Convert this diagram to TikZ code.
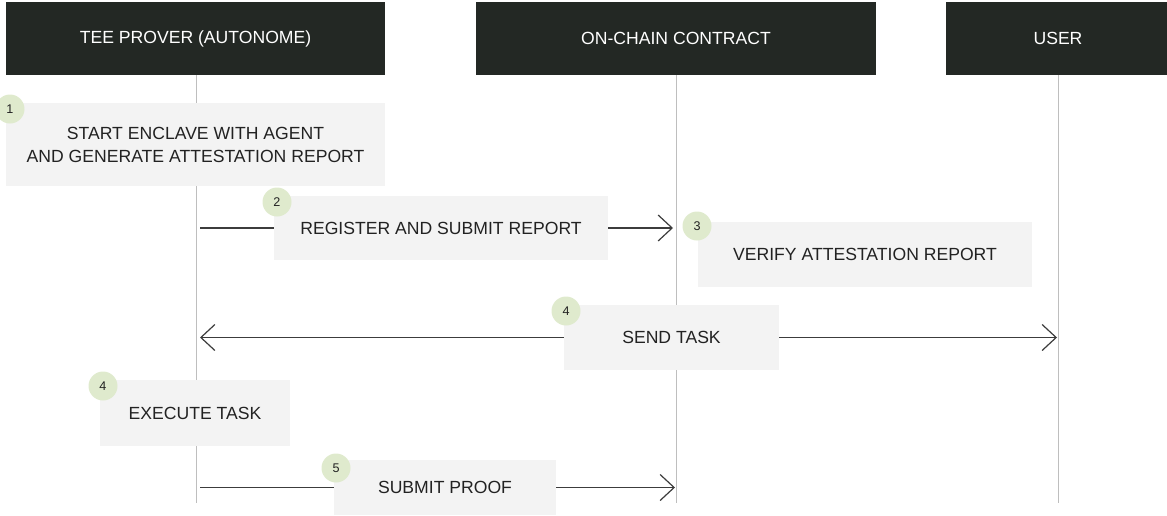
\documentclass[tikz,border=0pt]{standalone}
\usepackage{fontspec}
\setmainfont{Liberation Sans}
\usetikzlibrary{arrows.meta}
\definecolor{headbg}{RGB}{35,40,36}
\definecolor{stepbg}{RGB}{243,243,243}
\definecolor{badgebg}{RGB}{223,234,205}
\definecolor{inktext}{RGB}{34,34,34}
\definecolor{lifegray}{RGB}{190,190,190}
\definecolor{msggray}{RGB}{60,60,60}
\begin{document}
\begin{tikzpicture}[x=0.5pt, y=-0.5pt,
        header/.style={fill=headbg, text=white, minimum height=36.5pt, inner sep=0pt, font=\fontsize{8.8}{11}\selectfont},
        stepbox/.style={fill=stepbg, text=inktext, inner sep=0pt, align=center, font=\fontsize{8.8}{11.5}\selectfont},
        badge/.style={circle, fill=badgebg, text=inktext, minimum size=14.5pt, inner sep=0pt, font=\fontsize{6.3}{7}\selectfont},
        life/.style={draw=lifegray, line width=0.5pt},
        line/.style={draw=msggray, line width=0.6pt},
        msg/.style={line, -{Straight Barb[length=7pt, width=13pt, line width=0.6pt]}}
    ]

    \useasboundingbox (0,0) rectangle (1167,515);

    % Headers
    \node[header, minimum width=189.5pt] (tee) at (195.5,38.5) {TEE PROVER (AUTONOME)};
    \node[header, minimum width=200pt] (chain) at (676,38.5) {ON-CHAIN CONTRACT};
    \node[header, minimum width=112pt] (userhead) at (1058,38.5) {USER};

    % Lifelines
    \coordinate (teeend) at (196,503);
    \coordinate (chainend) at (676,503);
    \coordinate (userend) at (1058,503);
    \draw[life] (tee.south -| teeend) -- (teeend);
    \draw[life] (chain.south -| chainend) -- (chainend);
    \draw[life] (userhead.south -| userend) -- (userend);

    % Steps
    \node[stepbox, minimum width=189.5pt, minimum height=41.5pt] (start) at (195.5,144.5)
        {START ENCLAVE WITH AGENT\\AND GENERATE ATTESTATION REPORT};
    \node[stepbox, minimum width=167pt, minimum height=32pt] (register) at (441,228) {REGISTER AND SUBMIT REPORT};
    \node[stepbox, minimum width=167pt, minimum height=32.5pt] (verify) at (865,254.5) {VERIFY ATTESTATION REPORT};
    \node[stepbox, minimum width=107.5pt, minimum height=32.5pt] (send) at (671.5,337.5) {SEND TASK};
    \node[stepbox, minimum width=95pt, minimum height=33pt] (execute) at (195,413) {EXECUTE TASK};
    \node[stepbox, minimum width=111pt, minimum height=27.5pt] (proof) at (445,487.5) {SUBMIT PROOF};

    % Badges
    \node[badge] (b1) at (10,109) {1};
    \node[badge] (b2) at (277,202) {2};
    \node[badge] (b3) at (697,226) {3};
    \node[badge] (b4) at (566,311) {4};
    \node[badge] (b5) at (103,386) {4};
    \node[badge] (b6) at (336,468) {5};

    % Messages
    \draw[line] ([xshift=2pt]teeend |- register.west) -- (register.west);
    \draw[msg] (register.east) -- ([xshift=-1.5pt]chainend |- register.east);
    \draw[msg] (send.west) -- ([xshift=2pt]teeend |- send.west);
    \draw[msg] (send.east) -- ([xshift=-0.5pt]userend |- send.east);
    \draw[line] ([xshift=2pt]teeend |- proof.west) -- (proof.west);
    \draw[msg] (proof.east) -- ([xshift=-0.5pt]chainend |- proof.east);

\end{tikzpicture}
\end{document}
